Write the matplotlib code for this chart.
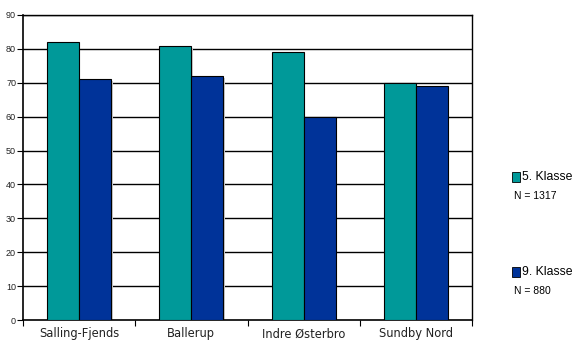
import numpy as np
import matplotlib.pyplot as plt
from matplotlib.patches import Rectangle

# ----------------------------
# Data
# ----------------------------
schools = ["Salling-Fjends", "Ballerup", "Indre Østerbro", "Sundby Nord"]
klasse5 = [82, 81, 79, 70]
klasse9 = [71, 72, 60, 69]
series_names = ["5. Klasse", "9. Klasse"]
series_n = ["N = 1317", "N = 880"]
colors = ["#009999", "#003399"]

W, H = 582, 345
fig = plt.figure(figsize=(W / 100, H / 100), dpi=100)
ax = fig.add_axes([23 / W, 1 - 320 / H, (472 - 23) / W, (320 - 15) / H])

x = np.arange(len(schools))
bw = 32 / 112
off = 24 / 112 - 0.5

# gridlines
for yv in range(10, 91, 10):
    ax.axhline(yv, color="black", linewidth=1.0, zorder=1)

for i, vals in enumerate([klasse5, klasse9]):
    left = x + off + i * bw
    # subtle shadow
    ax.bar(left + 0.012, vals, width=bw, align="edge", color="#cccccc",
           linewidth=0, zorder=2, bottom=-0.6)
    ax.bar(left, vals, width=bw, align="edge", color=colors[i],
           edgecolor="black", linewidth=0.8, zorder=3)

ax.set_xlim(-0.5, len(schools) - 0.5)
ax.set_ylim(0, 90)
ax.set_yticks(range(0, 91, 10))
ax.tick_params(axis="y", direction="out", length=4, width=0.8, labelsize=6.5,
               pad=1, labelcolor="#222222")
for lab in ax.get_yticklabels():
    lab.set_fontfamily("Liberation Sans")

ax.set_xticks(np.arange(-0.5, len(schools), 1.0))
ax.set_xticklabels([])
ax.tick_params(axis="x", direction="out", length=4, width=0.8)
for i, s in enumerate(schools):
    ax.text(i, -2.2, s, ha="center", va="top", fontsize=8.3,
            fontfamily="DejaVu Sans", color="#222222")

for sp in ["left", "bottom"]:
    ax.spines[sp].set_linewidth(1.2)
ax.spines["top"].set_linewidth(1.0)
ax.spines["right"].set_linewidth(1.0)

# legend
legend_y = [177, 272]
for name, n, c, yy in zip(series_names, series_n, colors, legend_y):
    fig.patches.append(Rectangle((512 / W, 1 - (yy + 5) / H), 8 / W, 10 / H,
                                 transform=fig.transFigure, facecolor=c,
                                 edgecolor="black", linewidth=0.6))
    fig.text(522 / W, 1 - yy / H, name, ha="left", va="center", fontsize=8.8,
             fontfamily="Liberation Sans")
    fig.text(514 / W, 1 - (yy + 19) / H, n, ha="left", va="center", fontsize=7.5,
             fontfamily="Liberation Sans")

fig.savefig("out.png", dpi=100)
